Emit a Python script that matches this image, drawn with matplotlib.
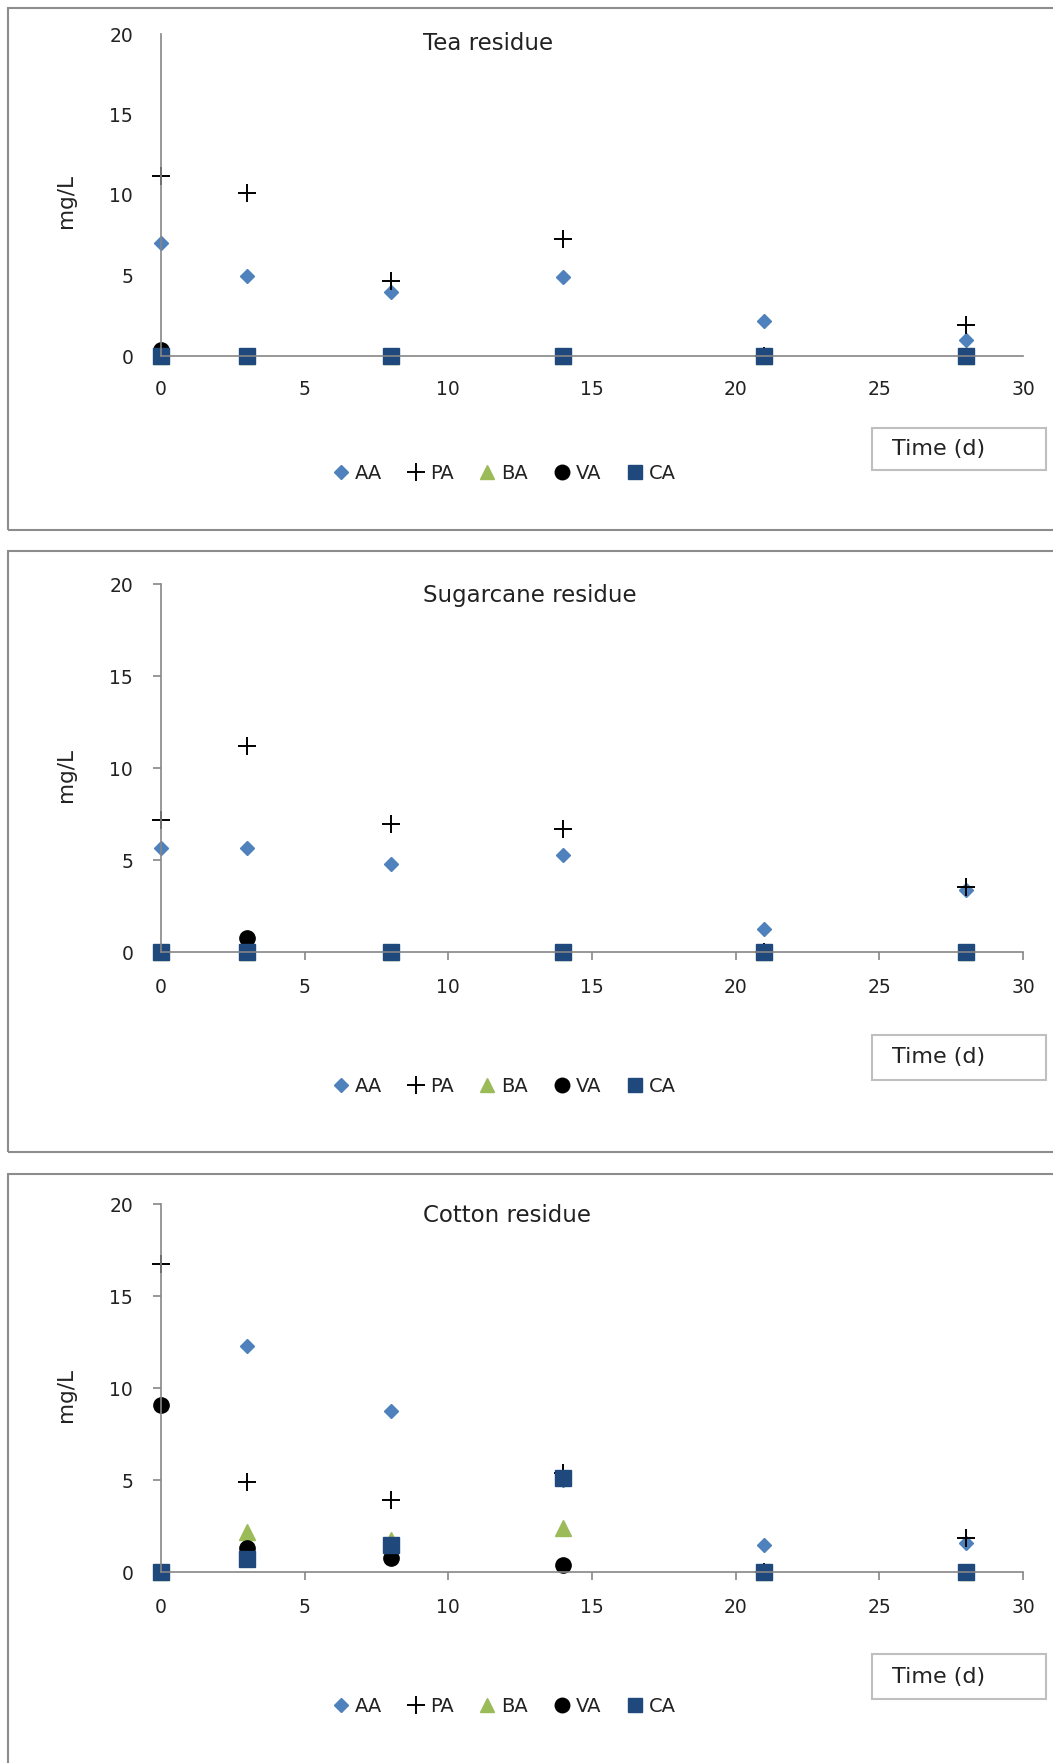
import matplotlib.pyplot as plt
from matplotlib.patches import Rectangle

plt.rcParams['font.family'] = ['DejaVu Sans']

# Sampling days
days = [0, 3, 8, 14, 21, 28]

# Tea residue (mg/L)
tea_AA = [7.0, 5.0, 3.95, 4.9, 2.2, 1.0]
tea_PA = [11.15, 10.1, 4.65, 7.25, 0.0, 1.95]
tea_BA = [0, 0, 0, 0, 0, 0]
tea_VA = [0.4, 0, 0, 0, 0, 0]
tea_CA = [0, 0, 0, 0, 0, 0]

# Sugarcane residue (mg/L)
sug_AA = [5.65, 5.65, 4.8, 5.25, 1.25, 3.35]
sug_PA = [7.15, 11.2, 6.95, 6.7, 0.0, 3.55]
sug_BA = [0, 0, 0, 0, 0, 0]
sug_VA = [0, 0.78, 0, 0, 0, 0]
sug_CA = [0, 0, 0, 0, 0, 0]

# Cotton residue (mg/L)
cot_AA = [0, 12.3, 8.75, 5.0, 1.45, 1.55]
cot_PA = [16.75, 4.9, 3.9, 5.4, 0.0, 1.85]
cot_BA = [0, 2.2, 1.75, 2.4, 0, 0]
cot_VA = [9.05, 1.3, 0.78, 0.4, 0, 0]
cot_CA = [0, 0.68, 1.48, 5.1, 0, 0]

titles = ["Tea residue", "Sugarcane residue", "Cotton residue"]
panels = [
    [tea_AA, tea_PA, tea_BA, tea_VA, tea_CA],
    [sug_AA, sug_PA, sug_BA, sug_VA, sug_CA],
    [cot_AA, cot_PA, cot_BA, cot_VA, cot_CA],
]
names = ["AA", "PA", "BA", "VA", "CA"]

# marker style per series
styles = [
    dict(marker='D', color='#4F81BD', ms=7.5),
    dict(marker='+', color='black', ms=13, mew=1.4),
    dict(marker='^', color='#9BBB59', ms=11),
    dict(marker='o', color='black', ms=11),
    dict(marker='s', color='#1F497D', ms=11),
]

txt = '#222222'
W, H = 1053, 1763
fig = plt.figure(figsize=(W / 100, H / 100), dpi=100)

# axes placement in pixels: (y0 pixel, y20 pixel), and panel frame (top, bottom)
ax_px = [(356, 34), (952, 584), (1572, 1204)]
frame_px = [(8, 530), (551, 1152), (1174, 1775)]
timebox_px = [(428, 470), (1035, 1080), (1654, 1699)]
x_left, x_right = 161, 1023

for i in range(3):
    # outer frame of the panel
    top, bot = frame_px[i]
    fig.patches.append(Rectangle((8 / W, 1 - bot / H), 1.2, (bot - top) / H,
                                 transform=fig.transFigure, fill=False,
                                 edgecolor='#8c8c8c', lw=1.5))

    y0, y20 = ax_px[i]
    ax = fig.add_axes([x_left / W, 1 - y0 / H, (x_right - x_left) / W, (y0 - y20) / H])
    for name, vals, st in zip(names, panels[i], styles):
        ax.plot(days, vals, linestyle='none', label=name, clip_on=False, **st)

    ax.set_xlim(0, 30)
    ax.set_ylim(0, 20)
    ax.set_xticks(range(0, 31, 5))
    ax.set_yticks(range(0, 21, 5))
    for s in ['top', 'right']:
        ax.spines[s].set_visible(False)
    for s in ['left', 'bottom']:
        ax.spines[s].set_color('#868686')
        ax.spines[s].set_linewidth(1.2)
    if i == 0:
        ax.tick_params(axis='x', length=0, pad=17)
        ax.tick_params(axis='y', length=0, pad=20)
    else:
        ax.tick_params(axis='x', length=6, width=1.2, color='#868686', pad=13)
        ax.tick_params(axis='y', length=6, width=1.2, color='#868686', pad=14)
    ax.tick_params(labelsize=13.5, labelcolor=txt)
    ax.patch.set_alpha(0)

    ax.set_ylabel("mg/L", fontsize=15.5, color=txt)
    ax.yaxis.set_label_coords(-0.099, 0.48)
    ax.text(0.304, 0.97, titles[i], transform=ax.transAxes, ha='left', va='center',
            fontsize=16.5, color=txt)

    ax.legend(loc='center', bbox_to_anchor=(0.399, -0.365), ncol=5, frameon=False,
              fontsize=14, markerscale=0.95, handlelength=0.75, handletextpad=0.35,
              columnspacing=1.35, labelcolor=txt)

    # "Time (d)" box
    bt, bb = timebox_px[i]
    fig.patches.append(Rectangle((872 / W, 1 - bb / H), (1046 - 872) / W, (bb - bt) / H,
                                 transform=fig.transFigure, fill=False,
                                 edgecolor='#bfbfbf', lw=1.5))
    fig.text(892 / W, 1 - (bt + bb) / 2 / H, "Time (d)", ha='left', va='center',
             fontsize=16, color=txt)

fig.savefig("out.png", dpi=100)
